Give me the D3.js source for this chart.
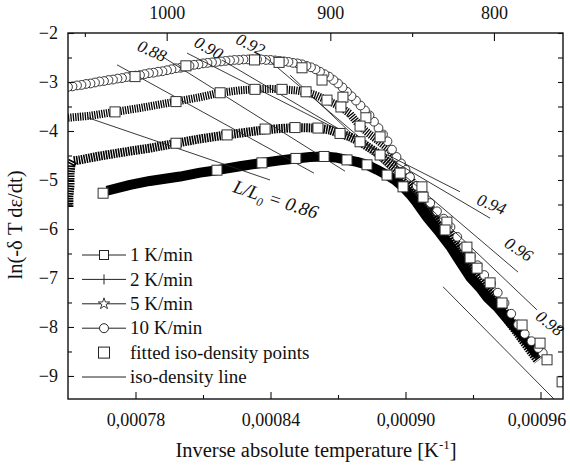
<!DOCTYPE html>
<html>
<head>
<meta charset="utf-8">
<script src="https://cdn.jsdelivr.net/npm/d3@7"></script>
<style>
  body { margin: 0; background: #fff; }
  text { font-family: "Liberation Serif", "Times New Roman", Times, serif; fill: #111; }
</style>
</head>
<body>
<div id="chart"></div>
<script>
// x: inverse absolute temperature in 1e-6 K^-1, y: ln(-dT de/dt)
const rate10 = [
  [750,-3.10],[752,-3.09],[754,-3.07],[756,-3.06],[758,-3.04],[760,-3.03],[762,-3.01],[764,-2.99],
  [766,-2.98],[768,-2.96],[770,-2.95],[772,-2.93],[774,-2.92],[776,-2.90],[778,-2.89],[780,-2.87],
  [782,-2.86],[784,-2.84],[786,-2.82],[788,-2.81],[790,-2.79],[792,-2.78],[794,-2.76],[796,-2.74],
  [798,-2.72],[800,-2.71],[802,-2.69],[804,-2.67],[806,-2.65],[808,-2.64],[810,-2.62],[812,-2.61],
  [814,-2.60],[816,-2.59],[818,-2.58],[820,-2.57],[822,-2.56],[824,-2.55],[826,-2.55],[828,-2.54],
  [830,-2.54],[832,-2.54],[834,-2.54],[836,-2.54],[838,-2.55],[840,-2.55],[842,-2.56],[844,-2.57],
  [846,-2.58],[848,-2.59],[850,-2.61],[852,-2.62],[854,-2.64],[856,-2.67],[858,-2.70],[860,-2.74],
  [862,-2.79],[864,-2.84],[866,-2.89],[868,-2.96],[870,-3.03],[872,-3.11],[874,-3.20],[876,-3.29],
  [878,-3.38],[880,-3.48],[882,-3.58],[884,-3.68],[886,-3.81],[888,-3.94],[890,-4.07],[892,-4.21],
  [894,-4.38],[896,-4.53],[898,-4.66],[900,-4.79],[902,-4.94],[905,-5.12],[908,-5.30],[911,-5.47],
  [914,-5.64],[917,-5.79],[920,-5.96],[923,-6.16],[926,-6.36],[929,-6.56],[932,-6.74],[935,-6.94],
  [938,-7.11],[941,-7.30],[944,-7.51],[947,-7.73],[950,-7.95],[953,-8.14],[956,-8.29],[959,-8.43],
  [961,-8.53]
];
const rate5 = [
  [750,-3.73],[759.8,-3.69],[770.9,-3.61],[782,-3.53],[798,-3.40],[808.7,-3.31],[817.6,-3.22],
  [826.4,-3.17],[833.1,-3.15],[839.8,-3.14],[845.1,-3.15],[850.9,-3.17],[855.3,-3.20],[860.2,-3.27],
  [865.1,-3.37],[870.9,-3.50],[875.3,-3.65],[879.8,-3.90],[883.3,-4.04],[887.3,-4.18],[893.1,-4.39],
  [897.6,-4.67],[902,-4.96],[906.4,-5.29],[910.9,-5.55],[915.3,-5.82],[919.8,-6.08],[924.2,-6.39],
  [928.7,-6.67],[933.1,-6.96],[937.6,-7.24],[942,-7.53],[946.4,-7.82],[950.9,-8.12],[955.3,-8.39],
  [959.3,-8.61]
];
const rate2 = [
  [750.4,-5.55],[750.4,-5.33],[750.9,-5.10],[750.9,-4.88],[751.3,-4.69],[752.2,-4.61],[755.3,-4.59],
  [764.2,-4.51],[777.6,-4.41],[786.4,-4.35],[798,-4.25],[808.7,-4.16],[820.7,-4.08],[828.7,-4.03],
  [836.7,-3.98],[844.2,-3.95],[850.9,-3.93],[861.1,-3.94],[866.4,-3.98],[870.9,-4.05],[875.3,-4.12],
  [879.8,-4.22],[884.2,-4.35],[888.7,-4.49],[893.1,-4.67],[897.6,-4.84],[902,-5.08],[906.4,-5.35],
  [910.9,-5.63],[915.3,-5.92],[919.8,-6.18],[924.2,-6.47],[928.7,-6.78],[933.1,-7.06],[937.6,-7.35],
  [942,-7.63],[946.4,-7.92],[950.9,-8.20],[955.3,-8.47],[958.9,-8.69]
];
const rate1 = [
  [767.3,-5.22],[777.6,-5.10],[786.4,-5.02],[799.8,-4.93],[808.7,-4.85],[816.2,-4.80],[826.4,-4.72],
  [836.2,-4.65],[844.2,-4.60],[851.3,-4.56],[857.6,-4.53],[863.8,-4.52],[868.7,-4.54],[874,-4.59],
  [878.4,-4.63],[882.9,-4.69],[887.3,-4.79],[891.8,-4.90],[895.3,-5.00],[898.9,-5.14],[902,-5.29],
  [905.1,-5.47],[909.6,-5.76],[915.3,-6.08],[919.8,-6.35],[922.9,-6.57],[928.7,-6.98],[933.1,-7.20],
  [936.2,-7.39],[940.7,-7.59],[946.4,-7.90],[950.9,-8.12],[955.3,-8.37],[958.4,-8.57]
];
const fittedPoints = [
  [765.6,-5.27],
  [779.8,-2.89],[802.4,-2.67],[832.9,-2.55],[843.8,-2.60],[854,-2.71],[862.9,-2.96],[872.2,-3.31],[882.4,-3.73],[888.7,-4.12],
  [770.9,-3.61],[798,-3.40],[817.6,-3.22],[833.1,-3.15],[845.1,-3.15],[855.8,-3.20],[865.1,-3.37],[871.3,-3.51],[879.8,-3.90],
  [798,-4.25],[820.7,-4.08],[837.6,-3.96],[850.9,-3.93],[861.1,-3.94],[870.9,-4.05],[879.8,-4.22],[888.7,-4.49],
  [816.2,-4.80],[836.2,-4.65],[851.3,-4.56],[863.8,-4.52],[874,-4.59],[882.9,-4.69],[891.8,-4.90],[898.9,-5.14],
  [897.6,-4.86],[907.3,-5.14],[907.8,-5.35],[918.4,-5.86],[917.6,-6.02],[927.3,-6.37],[928.7,-6.59],[931.8,-6.80],
  [937.6,-7.10],[942.9,-7.51],[951.8,-7.96],[959.8,-8.33],[962.9,-8.67],[969.6,-9.12]
];
// iso-density lines: [x1, y1, x2, y2]
const isoLines = [
  [758.9,-3.73,839.8,-5.00],
  [771.8,-2.65,859.3,-4.86],
  [792.2,-2.49,873.1,-4.82],
  [802.9,-2.41,924.2,-5.24],
  [818.4,-2.55,937.6,-5.78],
  [837.6,-2.49,950.0,-6.88],
  [848.7,-2.86,958.4,-7.65],
  [916.7,-7.18,966.4,-9.49]
];
const isoLabels = ["0.88","0.90","0.92","0.94","0.96","0.98"];
const isoLabelPos = [[787.4,-2.36],[812.6,-2.30],[831.2,-2.23],[938.3,-5.49],[950.4,-6.41],[964.2,-7.92]];
const isoLabelAngle = [24,30,26,22,33,38];
const bottomTicks = [780, 840, 900, 960];
const bottomMinor = [810, 870, 930];
const leftTicks = [-9, -8, -7, -6, -5, -4, -3, -2];
const leftMinor = [-9.5, -8.5, -7.5, -6.5, -5.5, -4.5, -3.5, -2.5];
const topTicks = [1000, 900, 800];
const topMinor = [1050, 850];
const legendLabels = ["1 K/min", "2 K/min", "5 K/min", "10 K/min", "fitted iso-density points", "iso-density line"];

const W = 570, H = 472;
const margin = { top: 33, right: 7, bottom: 73, left: 68 };
const width = W - margin.left - margin.right;
const height = H - margin.top - margin.bottom;

const svg = d3.select("#chart").append("svg").attr("width", W).attr("height", H);
const g = svg.append("g").attr("transform", `translate(${margin.left},${margin.top})`);

const x = d3.scaleLinear().domain([750, 970]).range([0, width]);
const y = d3.scaleLinear().domain([-9.47, -2]).range([height, 0]);
const xTop = d3.scaleLinear().domain([1060.3, 757.8]).range([0, width]);

g.append("clipPath").attr("id", "clip").append("rect").attr("width", width).attr("height", height);
const plot = g.append("g").attr("clip-path", "url(#clip)");

const line = d3.line().x((d) => x(d[0])).y((d) => y(d[1]));

// 1 K/min: dense squares merge into a solid band
plot.append("path").datum(rate1).attr("fill", "none").attr("stroke", "#000").attr("stroke-width", 10).attr("stroke-linejoin", "round").attr("d", line);
// 2 and 5 K/min: dense cross/star markers look like a hatched band
plot.append("path").datum(rate2).attr("fill", "none").attr("stroke", "#000").attr("stroke-width", 9).attr("stroke-dasharray", "1.6,0.9").attr("d", line);
plot.append("path").datum(rate5).attr("fill", "none").attr("stroke", "#000").attr("stroke-width", 8).attr("stroke-dasharray", "1.3,1.1").attr("d", line);

// 10 K/min open circles, drawn from low to high temperature
plot.selectAll(".c10").data(rate10.slice().reverse()).enter().append("circle")
  .attr("cx", (d) => x(d[0])).attr("cy", (d) => y(d[1])).attr("r", 4.4)
  .attr("fill", "#fff").attr("stroke", "#222").attr("stroke-width", 0.9);

// iso-density lines
plot.selectAll(".iso").data(isoLines).enter().append("line")
  .attr("x1", (d) => x(d[0])).attr("y1", (d) => y(d[1]))
  .attr("x2", (d) => x(d[2])).attr("y2", (d) => y(d[3]))
  .attr("stroke", "#222").attr("stroke-width", 0.9);

// fitted iso-density points
plot.selectAll(".fit").data(fittedPoints).enter().append("rect")
  .attr("x", (d) => x(d[0]) - 5).attr("y", (d) => y(d[1]) - 5).attr("width", 10).attr("height", 10)
  .attr("fill", "#fff").attr("stroke", "#333").attr("stroke-width", 1);

// labels of the iso-density lines
g.selectAll(".isolab").data(isoLabels).enter().append("text")
  .attr("transform", (d, i) => `translate(${x(isoLabelPos[i][0])},${y(isoLabelPos[i][1])}) rotate(${isoLabelAngle[i]})`)
  .attr("text-anchor", "middle").attr("dy", "0.35em")
  .style("font-size", "17px").style("font-style", "italic").text((d) => d);

const lab86 = g.append("text")
  .attr("transform", `translate(${x(842.4)},${y(-5.39)}) rotate(18)`)
  .attr("text-anchor", "middle").attr("dy", "0.35em")
  .style("font-size", "19px").style("font-style", "italic");
lab86.append("tspan").text("L/L");
lab86.append("tspan").attr("dy", "5").style("font-size", "12px").text("0");
lab86.append("tspan").attr("dy", "-5").text(" = 0.86");

// axes
const fmt = (v) => d3.format(".5f")(v * 1e-6).replace(".", ",");
const xAxisG = g.append("g").attr("transform", `translate(0,${height})`)
  .call(d3.axisBottom(x).tickValues(bottomTicks).tickSizeInner(-7).tickSizeOuter(0).tickPadding(14).tickFormat(fmt));
g.append("g").attr("transform", `translate(0,${height})`)
  .call(d3.axisBottom(x).tickValues(bottomMinor).tickSizeInner(-4).tickSizeOuter(0).tickFormat(""));
g.append("g")
  .call(d3.axisLeft(y).tickValues(leftTicks).tickSizeInner(-6).tickSizeOuter(0).tickPadding(10).tickFormat(d3.format("d")));
g.append("g")
  .call(d3.axisLeft(y).tickValues(leftMinor.filter((v) => v > -9.47)).tickSizeInner(-4).tickSizeOuter(0).tickFormat(""));
g.append("g").attr("transform", `translate(${width},0)`)
  .call(d3.axisRight(y).tickValues(leftTicks.concat(leftMinor).filter((v) => v > -9.47)).tickSizeInner(-5).tickSizeOuter(0).tickFormat(""));
g.append("g")
  .call(d3.axisTop(xTop).tickValues(topTicks).tickSizeInner(-8).tickSizeOuter(0).tickPadding(14).tickFormat(d3.format("d")));
g.append("g")
  .call(d3.axisTop(xTop).tickValues(topMinor).tickSizeInner(-4).tickSizeOuter(0).tickFormat(""));

g.selectAll(".domain").remove();
g.selectAll(".tick line").attr("stroke", "#111").attr("stroke-width", 1.1);
g.selectAll(".tick text").style("font-family", "'Liberation Serif', serif").style("font-size", "18px").attr("fill", "#111");
// the last bottom label sits against the right edge
xAxisG.selectAll(".tick text").filter((d) => d === 960).attr("dx", -4);

g.append("rect").attr("width", width).attr("height", height).attr("fill", "none").attr("stroke", "#111").attr("stroke-width", 1.4);

// axis titles
const xt = svg.append("text").attr("x", 316).attr("y", 457).attr("text-anchor", "middle").style("font-size", "20.5px");
xt.append("tspan").text("Inverse absolute temperature [K");
xt.append("tspan").attr("dy", "-8").style("font-size", "13px").text("-1");
xt.append("tspan").attr("dy", "8").text("]");

svg.append("text").attr("transform", "translate(22,225) rotate(-90)").attr("text-anchor", "middle")
  .style("font-size", "20.5px").text("ln(-\u03b4 T d\u03b5/dt)");

// legend
const leg = svg.append("g");
const rowY = (i) => 255 + i * 24.4;
legendLabels.forEach((lab, i) => {
  const cy = rowY(i);
  if (i !== 4) leg.append("line").attr("x1", 82).attr("x2", 126).attr("y1", cy).attr("y2", cy).attr("stroke", "#222").attr("stroke-width", 1);
  if (i === 0 || i === 4) {
    const s = i === 4 ? 11 : 9;
    leg.append("rect").attr("x", 104 - s / 2).attr("y", cy - s / 2).attr("width", s).attr("height", s).attr("fill", "#fff").attr("stroke", "#222");
  } else if (i === 1) {
    leg.append("rect").attr("x", 99).attr("y", cy - 5).attr("width", 10).attr("height", 10).attr("fill", "#fff");
    leg.append("path").attr("d", `M99,${cy}H109M104,${cy - 5}V${cy + 5}`).attr("stroke", "#222").attr("stroke-width", 1);
  } else if (i === 2) {
    leg.append("path").attr("d", d3.symbol(d3.symbolStar, 40)()).attr("transform", `translate(104,${cy})`).attr("fill", "#fff").attr("stroke", "#222").attr("stroke-width", 0.9);
  } else if (i === 3) {
    leg.append("circle").attr("cx", 104).attr("cy", cy).attr("r", 4.5).attr("fill", "#fff").attr("stroke", "#222");
  }
  leg.append("text").attr("x", 130).attr("y", cy).attr("dy", "0.33em").style("font-size", "19px").text(lab);
});
</script>
</body>
</html>
